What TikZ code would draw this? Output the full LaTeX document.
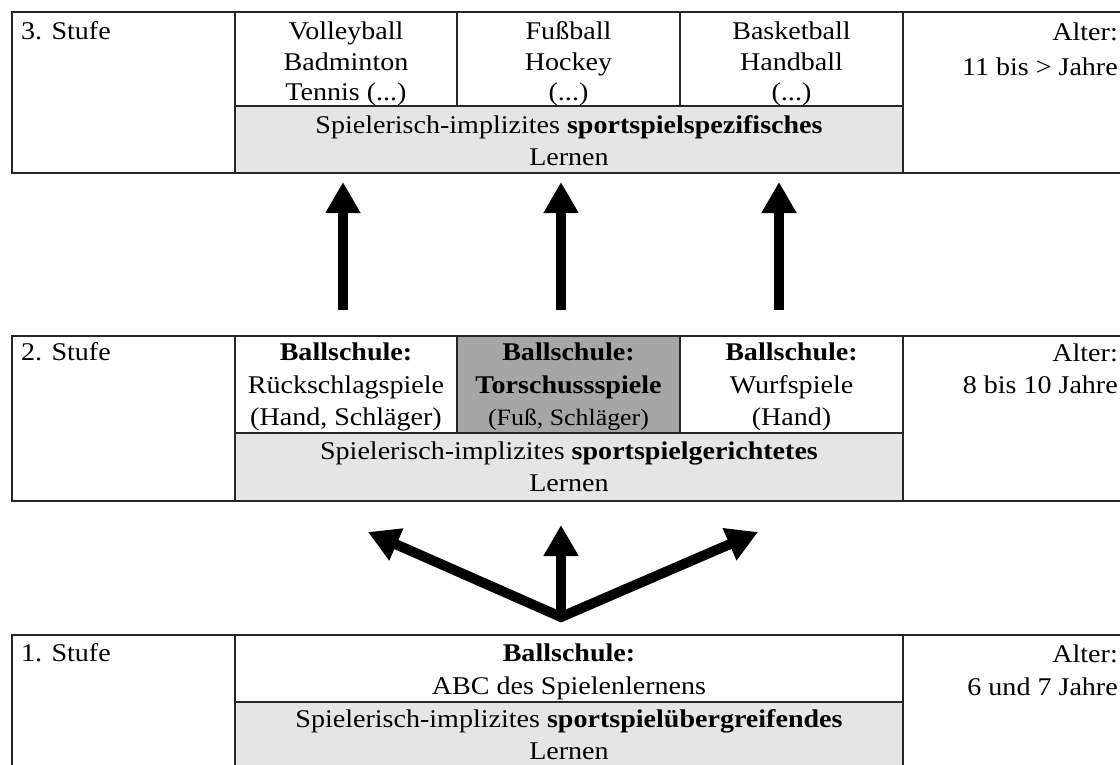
\documentclass[tikz,border=0pt]{standalone}
\usepackage{fontspec}
\setmainfont{Liberation Serif}[FakeStretch=1.1]
\usetikzlibrary{arrows.meta}
% stacked lines whose first baseline is the node's base
\newcommand\lines[2][c]{\begin{tabular}[t]{@{}#1@{}}#2\end{tabular}}
\definecolor{bandgray}{gray}{0.9}
\definecolor{cellgray}{gray}{0.65}
\definecolor{rulegray}{gray}{0.15}
\begin{document}
\begin{tikzpicture}[x=1pt, y=-1pt,
  rule/.style={draw=rulegray, line width=1.8pt},
  txt/.style={inner sep=0pt, font=\fontsize{25.5}{30.5}\selectfont},
  stage/.style={txt, anchor=base west},
  cell/.style={txt, anchor=base},
  age/.style={txt, anchor=base east},
  bigarrow/.style={line width=10pt, -{Triangle[length=31pt,width=33pt]}},
  forkarrow/.style={line width=10pt, line join=miter,
    {Triangle[length=31pt,width=33pt]}-{Triangle[length=31pt,width=33pt]}}]

\fill[white] (0,0) rectangle (1120,764);
\useasboundingbox (0,0) rectangle (1120,764);

% ---------- shaded areas ----------
\fill[bandgray] (235,106) rectangle (903,173);
\fill[bandgray] (235,433) rectangle (903,501);
\fill[bandgray] (235,702) rectangle (903,770);
\fill[cellgray] (457,336) rectangle (680,433);

% ---------- stage 3 grid ----------
\draw[rule] (11,12) -- (1120,12) (11,173) -- (1120,173)
  (12,12) -- (12,173) (235,12) -- (235,173) (903,12) -- (903,173)
  (457,12) -- (457,106) (680,12) -- (680,106) (235,106) -- (903,106);

% ---------- stage 2 grid ----------
\draw[rule] (11,336) -- (1120,336) (11,501) -- (1120,501)
  (12,336) -- (12,501) (235,336) -- (235,501) (903,336) -- (903,501)
  (457,336) -- (457,433) (680,336) -- (680,433) (235,433) -- (903,433);

% ---------- stage 1 grid ----------
\draw[rule] (11,635) -- (1120,635)
  (12,635) -- (12,770) (235,635) -- (235,770) (903,635) -- (903,770)
  (235,702) -- (903,702);

% ---------- stage 3 texts ----------
\node[stage] (s3) at (21,39.5) {3. Stufe};
\node[cell] (volley) at (346,39.5) {\lines{Volleyball\\Badminton\\Tennis (...)}};
\node[cell] (fuss) at (568.5,39.5) {\lines{Fußball\\Hockey\\(...)}};
\node[cell] (basket) at (791.5,39.5) {\lines{Basketball\\Handball\\(...)}};
\node[cell] (learn3) at (569,133.5) {\lines{Spielerisch-implizites \textbf{sportspielspezifisches}\\[1pt]Lernen}};
\node[age] (age3) at (1118,40.5) {\lines[r]{Alter:\\[4.5pt]11 bis > Jahre}};

% ---------- stage 2 texts ----------
\node[stage] (s2) at (21,360.5) {2. Stufe};
\node[cell] (rueck) at (346,360.5) {\lines{\textbf{Ballschule:}\\[2.5pt]Rückschlagspiele\\[1.5pt](Hand, Schläger)}};
\node[cell] (tor) at (568.5,360.5) {\lines{\textbf{Ballschule:}\\[2.5pt]\textbf{Torschussspiele}\\[1.5pt]{\fontsize{23.5}{30.5}\selectfont (Fuß, Schläger)}}};
\node[cell] (wurf) at (791.5,360.5) {\lines{\textbf{Ballschule:}\\[2.5pt]Wurfspiele\\[1.5pt](Hand)}};
\node[cell] (learn2) at (569,459) {\lines{Spielerisch-implizites \textbf{sportspielgerichtetes}\\[1.5pt]Lernen}};
\node[age] (age2) at (1118,361.5) {\lines[r]{Alter:\\[1pt]8 bis 10 Jahre}};

% ---------- stage 1 texts ----------
\node[stage] (s1) at (21,661.5) {1. Stufe};
\node[cell] (abc) at (569,661.5) {\lines{\textbf{Ballschule:}\\[2.5pt]ABC des Spielenlernens}};
\node[cell] (learn1) at (569,727.5) {\lines{Spielerisch-implizites \textbf{sportspielübergreifendes}\\[1.5pt]Lernen}};
\node[age] (age1) at (1118,662) {\lines[r]{Alter:\\[2.5pt]6 und 7 Jahre}};

% ---------- arrows from stage 2 to stage 3 ----------
\coordinate (upAs) at (343,310); \coordinate (upAe) at (343,182);
\coordinate (upBs) at (561,310); \coordinate (upBe) at (561,182);
\coordinate (upCs) at (779,310); \coordinate (upCe) at (779,182);
\draw[bigarrow] (upAs) -- (upAe);
\draw[bigarrow] (upBs) -- (upBe);
\draw[bigarrow] (upCs) -- (upCe);

% ---------- fork from stage 1 to stage 2 ----------
\coordinate (fork) at (561,617);
\coordinate (tipL) at (368,532);
\coordinate (tipM) at (561,525);
\coordinate (tipR) at (758,532);
\draw[forkarrow] (tipL) -- (fork) -- (tipR);
\draw[bigarrow] (fork) -- (tipM);
\end{tikzpicture}
\end{document}
